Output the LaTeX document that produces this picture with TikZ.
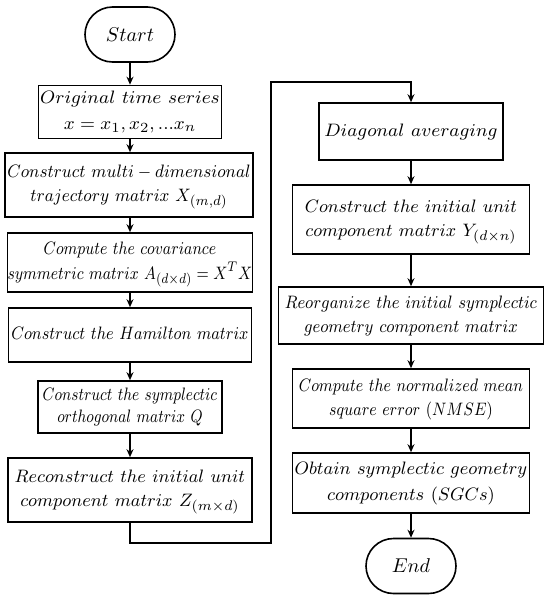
\documentclass[tikz,border=0pt]{standalone}
\usepackage{tikz}
\usepackage{graphicx}
\usetikzlibrary{positioning,arrows.meta,shapes.misc}
% squeeze a (multi-line) label sideways so it fills its box
\newcommand{\boxtext}[2]{\scalebox{#1}[1]{\begin{tabular}{@{}c@{}}#2\end{tabular}}}

\begin{document}
\begin{tikzpicture}[x=0.5pt, y=-0.5pt,
  stepbox/.style={rectangle, draw=black, line width=0.8pt, inner sep=0pt, align=center, font=\fontsize{9.4}{12}\selectfont},
  term/.style={rounded rectangle, draw=black, line width=0.8pt, minimum width=45pt, minimum height=27.5pt, inner sep=0pt, font=\fontsize{10}{13}\selectfont},
  rel/.style={-{Stealth[length=4pt, width=3.5pt]}, line width=0.8pt, draw=black}
]
\useasboundingbox (0,0) rectangle (550,600);
% left column
\node[term] (start) at (130,34.5) {$Start$};
\node[stepbox, minimum width=91.5pt, minimum height=26.5pt] (series) at (130,112)
  {\boxtext{1.04}{$Original\ time\ series$\\[1pt]$x=x_1,x_2,...x_n$}};
\node[stepbox, minimum width=124pt, minimum height=32pt] (traj) at (129,185)
  {\boxtext{0.93}{$Construct\ multi-dimensional$\\$trajectory\ matrix\ X_{(m,d)}$}};
\node[stepbox, minimum width=121.5pt, minimum height=29.5pt] (cov) at (130,262.5)
  {\boxtext{0.85}{$Compute\ the\ covariance$\\$symmetric\ matrix\ A_{(d\times d)}=X^T X$}};
\node[stepbox, minimum width=121.5pt, minimum height=27pt] (hamilton) at (130,335)
  {\boxtext{0.88}{$Construct\ the\ Hamilton\ matrix$}};
\node[stepbox, minimum width=92pt, minimum height=26pt] (sympq) at (130,407)
  {\boxtext{0.83}{$Construct\ the\ symplectic$\\[-1pt]$orthogonal\ matrix\ Q$}};
\node[stepbox, minimum width=122pt, minimum height=32pt] (recon) at (130,490)
  {\boxtext{0.99}{$Reconstruct\ the\ initial\ unit$\\$component\ matrix\ Z_{(m\times d)}$}};
% right column
\node[stepbox, minimum width=92pt, minimum height=28.5pt] (diag) at (411,131.5)
  {\boxtext{1.04}{$Diagonal\ averaging$}};
\node[stepbox, minimum width=118.5pt, minimum height=34.5pt] (ycomp) at (411,219.5)
  {\boxtext{0.98}{$Construct\ the\ initial\ unit$\\$component\ matrix\ Y_{(d\times n)}$}};
\node[stepbox, minimum width=132.5pt, minimum height=28.5pt] (reorg) at (411,315.5)
  {\boxtext{0.9}{$Reorganize\ the\ initial\ symplectic$\\$geometry\ component\ matrix$}};
\node[stepbox, minimum width=118.5pt, minimum height=29.5pt] (nmse) at (411,398.5)
  {\boxtext{0.86}{$Compute\ the\ normalized\ mean$\\$square\ error\ (NMSE)$}};
\node[stepbox, minimum width=118.5pt, minimum height=30pt] (sgcs) at (411,483)
  {\boxtext{0.995}{$Obtain\ symplectic\ geometry$\\[1pt]$components\ (SGCs)$}};
\node[term] (end) at (411,566) {$End$};
% turn between columns
\coordinate (turnA) at (130,543);
\coordinate (turnB) at (271,543);
\coordinate (turnC) at (271,82);
\coordinate (turnD) at (411,82);

\draw[rel] (start) -- (series);
\draw[rel] (series) -- (series |- traj.north);
\draw[rel] (series |- traj.south) -- (cov);
\draw[rel] (cov) -- (hamilton);
\draw[rel] (hamilton) -- (sympq);
\draw[rel] (sympq) -- (recon);
\draw[rel] (recon) -- (turnA) -- (turnB) -- (turnC) -- (turnD) -- (diag);
\draw[rel] (diag) -- (ycomp);
\draw[rel] (ycomp) -- (reorg);
\draw[rel] (reorg) -- (nmse);
\draw[rel] (nmse) -- (sgcs);
\draw[rel] (sgcs) -- (end);
\end{tikzpicture}
\end{document}
